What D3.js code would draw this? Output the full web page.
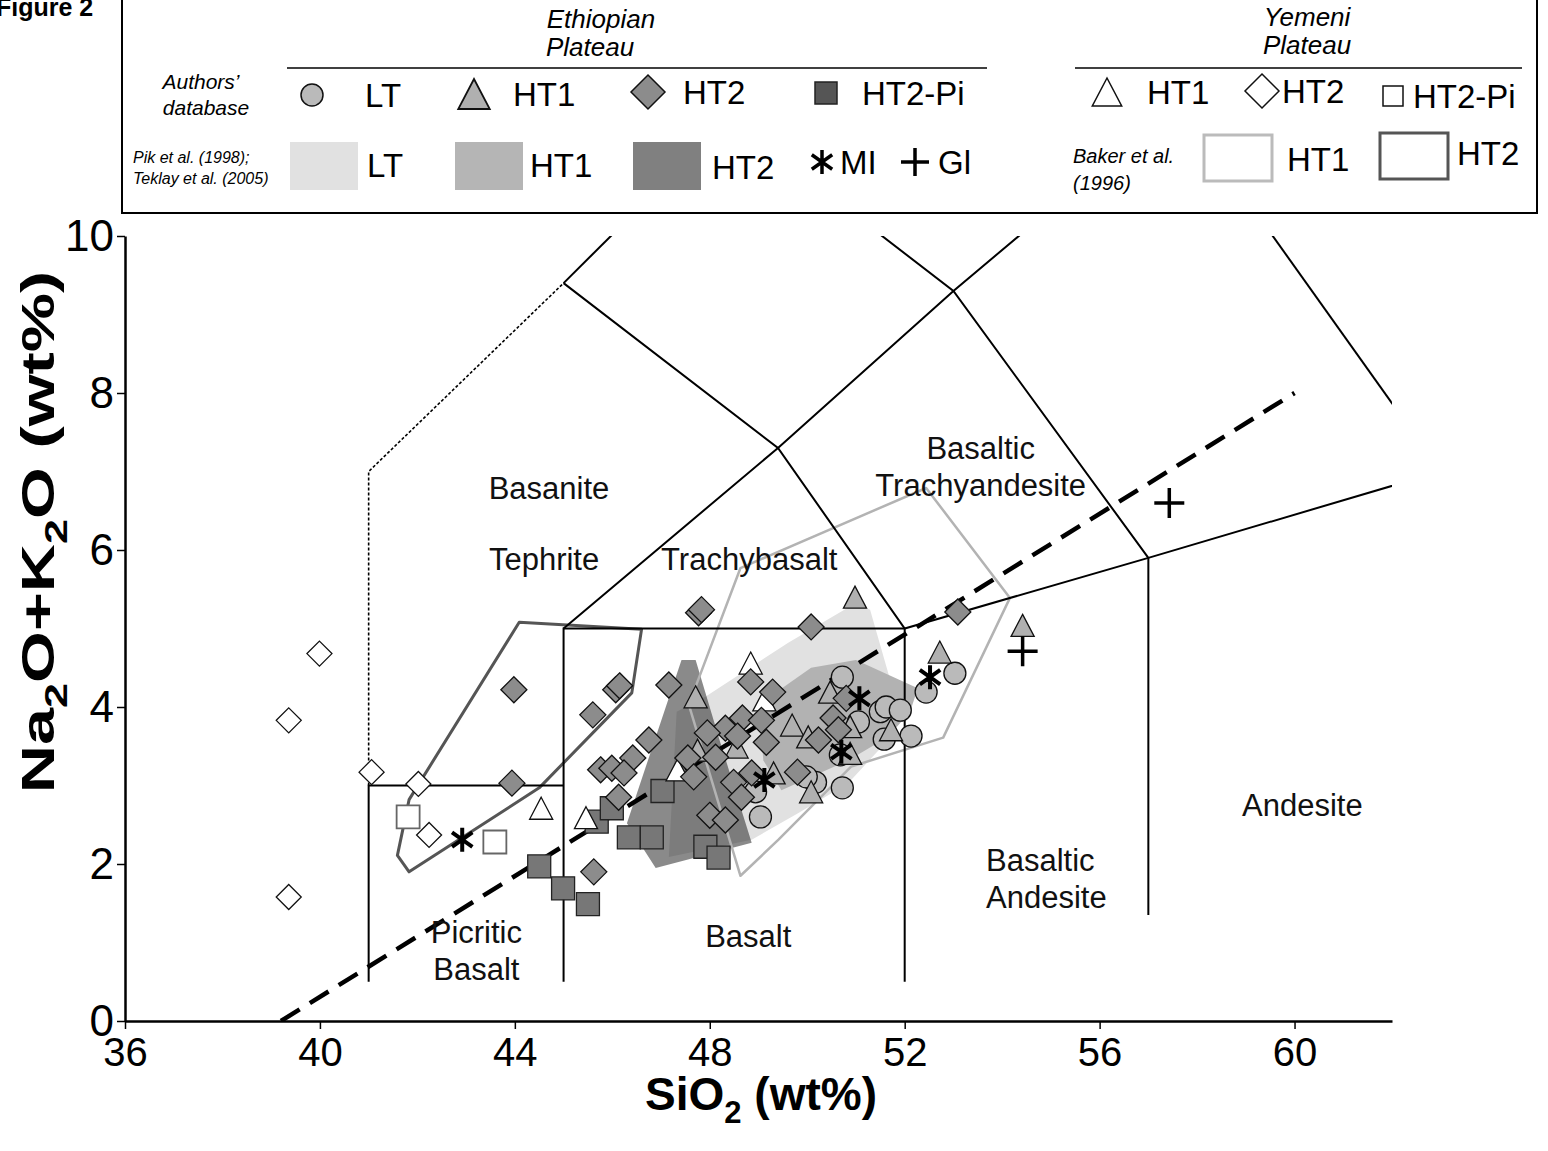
<!DOCTYPE html>
<html>
<head>
<meta charset="utf-8">
<script src="https://cdn.jsdelivr.net/npm/d3@7"></script>
<style>
body { margin: 0; background: #fff; }
svg { display: block; font-family: "Liberation Sans", Arial, sans-serif; }
</style>
</head>
<body>
<script>
// axis ticks
const xTicks = [36, 40, 44, 48, 52, 56, 60];
const yTicks = [0, 2, 4, 6, 8, 10];

// authors' database, Ethiopian plateau  [SiO2, Na2O+K2O]
const ltPts = [[50.72,4.38],[51.05,3.81],[50.17,3.04],[50.72,2.97],[49.04,2.60],[48.94,2.92],[49.98,3.11],
  [50.68,3.39],[51.50,3.94],[51.62,4.00],[51.91,3.96],[51.58,3.59],[52.13,3.63],[52.44,4.19],[53.03,4.43]];
const ht1Pts = [[50.98,5.40],[52.72,4.70],[54.42,5.04],[47.71,4.13],[47.75,3.45],[48.55,3.49],[49.31,3.16],
  [49.69,3.77],[50.02,3.62],[50.47,4.19],[50.88,3.75],[50.88,3.41],[50.08,2.92],[51.72,3.71]];
const ht2Pts = [[43.98,4.22],[43.94,3.03],[46.07,4.22],[46.15,4.27],[45.60,3.90],[47.16,4.28],[46.75,3.58],
  [46.42,3.35],[45.76,3.20],[45.99,3.22],[46.24,3.16],[46.13,2.85],[45.62,1.90],[47.77,5.20],[47.83,5.24],
  [48.84,4.32],[49.29,4.19],[48.67,3.86],[49.06,3.83],[48.32,3.73],[47.95,3.67],[48.57,3.63],[49.16,3.55],
  [47.55,3.35],[48.12,3.36],[47.67,3.11],[48.49,3.04],[48.86,3.16],[48.65,2.85],[48.00,2.62],[48.32,2.56],
  [50.08,5.02],[53.09,5.21],[49.80,3.17],[50.23,3.58],[50.53,3.86],[50.80,4.11],[50.64,3.71]];
const ht2PiPts = [[44.50,1.97],[44.99,1.69],[45.50,1.49],[45.68,2.54],[45.99,2.71],[46.34,2.34],[46.81,2.34],
  [47.03,2.93],[47.91,2.22],[48.18,2.08]];

// Yemeni plateau
const yemHt1Pts = [[44.54,2.71],[45.46,2.59],[47.34,3.20],[48.84,4.56],[49.12,4.09]];
const yemHt2Pts = [[39.99,4.68],[39.36,3.83],[39.36,1.58],[41.06,3.17],[42.02,3.02],[42.24,2.37]];
const yemHt2PiPts = [[41.81,2.60],[43.59,2.28]];

// melt inclusions and glasses
const miPts = [[42.92,2.31],[49.12,3.07],[50.70,3.43],[51.07,4.11],[52.52,4.38]];
const glPts = [[57.43,6.60],[54.42,4.71]];

// literature fields
const pikLT = [[47.32,3.94],[47.91,4.13],[49.61,4.82],[50.98,5.32],[51.29,5.24],[51.76,4.22],[51.66,3.58],
  [50.84,3.03],[49.82,2.65],[48.86,2.31],[47.16,2.09]];
const pikHT1 = [[49.00,4.03],[50.08,4.50],[51.00,4.60],[52.27,4.24],[52.11,3.94],[51.66,3.62],[50.84,3.32],
  [49.47,2.94],[49.10,3.32]];
const pikHT2 = [[47.42,4.60],[47.71,4.60],[48.20,3.58],[48.86,2.27],[46.89,1.95],[46.30,2.52]];
const bakerHT1 = [[48.63,5.77],[52.44,6.79],[54.16,5.39],[52.79,3.61],[50.90,3.24],[49.41,2.31],[48.63,1.85],[47.57,4.03]];
const bakerHT2 = [[44.09,5.08],[46.60,4.99],[46.40,4.18],[44.50,2.97],[41.83,1.90],[41.59,2.11],[41.83,2.82]];

// TAS classification boundaries
const tasLines = [
  [[41,0.5],[41,3],[45,3]],
  [[45,0.5],[45,5],[52,5],[52,0.5]],
  [[57,1.35],[57,5.9]],
  [[45,5],[49.4,7.3],[53,9.3],[57.6,11.7]],
  [[45,9.4],[49.4,7.3],[52,5],[57,5.9],[63,7]],
  [[57,5.9],[53,9.3],[48.4,11.5]],
  [[45,9.4],[48.4,11.5]],
  [[57.6,11.7],[63,7]]
];
const dottedLine = [[41,3],[41,7],[45,9.4]];
const alkLine = [[39.2,0],[60,8]];

const fieldNames = [
  {t: ["Basanite"], p: [44.7,6.65]}, {t: ["Tephrite"], p: [44.6,5.75]},
  {t: ["Trachybasalt"], p: [48.81,5.75]}, {t: ["Basaltic","Trachyandesite"], p: [53.56,7.16]},
  {t: ["Picritic","Basalt"], p: [43.21,0.99]}, {t: ["Basalt"], p: [48.79,0.94]},
  {t: ["Basaltic","Andesite"], p: [53.67,1.91], a: "start"}, {t: ["Andesite"], p: [60.16,2.61]}
];

const W = 1548, H = 1151;
const svg = d3.select("body").append("svg").attr("width", W).attr("height", H);

const x = d3.scaleLinear().domain([36, 62]).range([125, 1392]);
const y = d3.scaleLinear().domain([0, 10]).range([1021, 236]);
const line = d3.line().x(d => x(d[0])).y(d => y(d[1]));

svg.append("clipPath").attr("id", "plot")
  .append("rect").attr("x", x(36)).attr("y", y(10)).attr("width", x(62) - x(36)).attr("height", y(0) - y(10));

const plot = svg.append("g").attr("clip-path", "url(#plot)");

// fields
plot.append("path").attr("d", line(pikLT) + "Z").attr("fill", "#e1e1e1");
plot.append("path").attr("d", line(pikHT1) + "Z").attr("fill", "#b2b2b2");
plot.append("path").attr("d", line(pikHT2) + "Z").attr("fill", "#2a2a2a").attr("fill-opacity", 0.55);
plot.append("path").attr("d", line(bakerHT1) + "Z").attr("fill", "none")
  .attr("stroke", "#b3b3b3").attr("stroke-width", 2.5).attr("stroke-linejoin", "round");
plot.append("path").attr("d", line(bakerHT2) + "Z").attr("fill", "none")
  .attr("stroke", "#555").attr("stroke-width", 3).attr("stroke-linejoin", "round");

// classification grid
plot.selectAll(".tas").data(tasLines).enter().append("path")
  .attr("d", line).attr("fill", "none").attr("stroke", "#000").attr("stroke-width", 2);
plot.append("path").attr("d", line(dottedLine)).attr("fill", "none")
  .attr("stroke", "#000").attr("stroke-width", 1.6).attr("stroke-dasharray", "3,2");
plot.append("path").attr("d", line(alkLine)).attr("fill", "none")
  .attr("stroke", "#000").attr("stroke-width", 4.5).attr("stroke-dasharray", "22,12");

// field names
fieldNames.forEach(f => {
  const t = svg.append("text").attr("x", x(f.p[0])).attr("y", y(f.p[1]))
    .attr("text-anchor", f.a || "middle").style("font-size", "31px").attr("fill", "#111");
  f.t.forEach((s, i) => t.append("tspan").attr("x", x(f.p[0])).attr("dy", i ? 37 : 0).text(s));
});

// marker shapes
const shapes = {
  circle: r => `M${-r},0A${r},${r} 0 1,0 ${r},0A${r},${r} 0 1,0 ${-r},0Z`,
  tri: r => `M0,${-r}L${r * 1.05},${r}L${-r * 1.05},${r}Z`,
  dia: r => `M0,${-r}L${r},0L0,${r}L${-r},0Z`,
  sq: r => `M${-r},${-r}H${r}V${r}H${-r}Z`,
  star: r => `M0,${-r}V${r}M${-r * 0.85},${-r * 0.6}L${r * 0.85},${r * 0.6}M${-r * 0.85},${r * 0.6}L${r * 0.85},${-r * 0.6}`,
  plus: r => `M${-r},0H${r}M0,${-r}V${r}`
};

function markers(g, pts, shape, r, fill, stroke, sw) {
  g.selectAll(null).data(pts).enter().append("path")
    .attr("transform", d => `translate(${x(d[0])},${y(d[1])})`)
    .attr("d", shapes[shape](r))
    .attr("fill", fill).attr("stroke", stroke).attr("stroke-width", sw);
}

const pts = svg.append("g");
markers(pts, ht2PiPts, "sq", 11.5, "#777", "#222", 1.3);
markers(pts, ltPts, "circle", 11, "#bababa", "#111", 1.3);
markers(pts, ht1Pts, "tri", 11, "#b0b0b0", "#111", 1.3);
markers(pts, yemHt1Pts, "tri", 11, "#fff", "#111", 1.3);
markers(pts, ht2Pts, "dia", 13, "#8c8c8c", "#111", 1.3);
markers(pts, yemHt2PiPts, "sq", 11.5, "#fff", "#666", 1.8);
markers(pts, yemHt2Pts, "dia", 12.5, "#fff", "#111", 1.3);
markers(pts, miPts, "star", 12, "none", "#000", 4);
markers(pts, glPts, "plus", 15, "none", "#000", 3.5);

// axes
const xAxis = svg.append("g").attr("transform", `translate(0,${y(0)})`)
  .call(d3.axisBottom(x).tickValues(xTicks).tickSize(8).tickSizeOuter(0).tickPadding(9));
const yAxis = svg.append("g").attr("transform", `translate(${x(36)},0)`)
  .call(d3.axisLeft(y).tickValues(yTicks).tickSize(8).tickSizeOuter(0).tickPadding(3));
[xAxis, yAxis].forEach(a => {
  a.select(".domain").attr("stroke-width", 2.5);
  a.selectAll(".tick line").attr("stroke-width", 1.5);
  a.selectAll(".tick text").style("font-family", "'Liberation Sans', Arial, sans-serif").attr("fill", "#000");
});
xAxis.selectAll(".tick text").style("font-size", "40px");
yAxis.selectAll(".tick text").style("font-size", "44px");

const xt = svg.append("text").attr("x", 761).attr("y", 1110).attr("text-anchor", "middle")
  .style("font-size", "46px").style("font-weight", "bold");
xt.append("tspan").text("SiO");
xt.append("tspan").text("2").style("font-size", "31px").attr("dy", 13);
xt.append("tspan").text(" (wt%)").attr("dy", -13);

// y title is drawn stretched along its length, as in the source figure
const yt = svg.append("text").attr("transform", "translate(54,532) rotate(-90) scale(1.45,1)").attr("text-anchor", "middle")
  .style("font-size", "46px").style("font-weight", "bold");
yt.append("tspan").text("Na");
yt.append("tspan").text("2").style("font-size", "31px").attr("dy", 13);
yt.append("tspan").text("O+K").attr("dy", -13);
yt.append("tspan").text("2").style("font-size", "31px").attr("dy", 13);
yt.append("tspan").text("O (wt%)").attr("dy", -13);

// legend
const lg = svg.append("g");
lg.append("rect").attr("x", 122).attr("y", -5).attr("width", 1415).attr("height", 218)
  .attr("fill", "none").attr("stroke", "#000").attr("stroke-width", 2);
svg.append("text").attr("x", -4).attr("y", 16).style("font-size", "25px").style("font-weight", "bold").text("Figure 2");

function ltext(tx, ty, s, size, italic, anchor) {
  lg.append("text").attr("x", tx).attr("y", ty).attr("text-anchor", anchor || "start")
    .style("font-size", size + "px").style("font-style", italic ? "italic" : "normal").text(s);
}
ltext(601, 28, "Ethiopian", 26, true, "middle");
ltext(590, 56, "Plateau", 26, true, "middle");
ltext(1307, 26, "Yemeni", 26, true, "middle");
ltext(1307, 54, "Plateau", 26, true, "middle");
lg.append("line").attr("x1", 287).attr("x2", 987).attr("y1", 68).attr("y2", 68).attr("stroke", "#000").attr("stroke-width", 1.5);
lg.append("line").attr("x1", 1075).attr("x2", 1522).attr("y1", 68).attr("y2", 68).attr("stroke", "#000").attr("stroke-width", 1.5);

ltext(201, 89, "Authors’", 21, true, "middle");
ltext(206, 115, "database", 21, true, "middle");
ltext(133, 163, "Pik et al. (1998);", 16, true);
ltext(133, 184, "Teklay et al. (2005)", 16, true);
ltext(1073, 163, "Baker et al.", 20, true);
ltext(1073, 190, "(1996)", 20, true);

const legMarks = [
  {p: [312, 95], s: "circle", r: 11, f: "#bababa", st: "#111", w: 1.5, t: "LT", tx: 365},
  {p: [474, 94], s: "tri", r: 15, f: "#b0b0b0", st: "#111", w: 1.8, t: "HT1", tx: 513},
  {p: [648, 92], s: "dia", r: 17, f: "#8c8c8c", st: "#111", w: 1.5, t: "HT2", tx: 683},
  {p: [826, 93], s: "sq", r: 11, f: "#555", st: "#222", w: 1.5, t: "HT2-Pi", tx: 862},
  {p: [1107, 92], s: "tri", r: 14, f: "#fff", st: "#111", w: 1.5, t: "HT1", tx: 1147},
  {p: [1262, 91], s: "dia", r: 17, f: "#fff", st: "#111", w: 1.5, t: "HT2", tx: 1282},
  {p: [1393, 96], s: "sq", r: 10, f: "#fff", st: "#111", w: 1.5, t: "HT2-Pi", tx: 1413}
];
legMarks.forEach(m => {
  lg.append("path").attr("transform", `translate(${m.p[0]},${m.p[1]})`).attr("d", shapes[m.s](m.r))
    .attr("fill", m.f).attr("stroke", m.st).attr("stroke-width", m.w);
  ltext(m.tx, m.p[1] + 12, m.t, 33);
});

const legFields = [
  {x: 290, y: 142, f: "#e1e1e1", t: "LT", tx: 367, ty: 177},
  {x: 455, y: 142, f: "#b5b5b5", t: "HT1", tx: 530, ty: 177},
  {x: 633, y: 142, f: "#808080", t: "HT2", tx: 712, ty: 179}
];
legFields.forEach(m => {
  lg.append("rect").attr("x", m.x).attr("y", m.y).attr("width", 68).attr("height", 48).attr("fill", m.f);
  ltext(m.tx, m.ty, m.t, 33);
});
lg.append("path").attr("transform", "translate(822,162)").attr("d", shapes.star(12))
  .attr("fill", "none").attr("stroke", "#000").attr("stroke-width", 3.5);
ltext(840, 174, "MI", 33);
lg.append("path").attr("transform", "translate(915,162)").attr("d", shapes.plus(14))
  .attr("fill", "none").attr("stroke", "#000").attr("stroke-width", 3.5);
ltext(938, 174, "Gl", 33);

lg.append("rect").attr("x", 1204).attr("y", 135).attr("width", 68).attr("height", 46)
  .attr("fill", "none").attr("stroke", "#bbb").attr("stroke-width", 3);
ltext(1287, 171, "HT1", 33);
lg.append("rect").attr("x", 1380).attr("y", 133).attr("width", 68).attr("height", 46)
  .attr("fill", "none").attr("stroke", "#555").attr("stroke-width", 3);
ltext(1457, 165, "HT2", 33);
</script>
</body>
</html>
